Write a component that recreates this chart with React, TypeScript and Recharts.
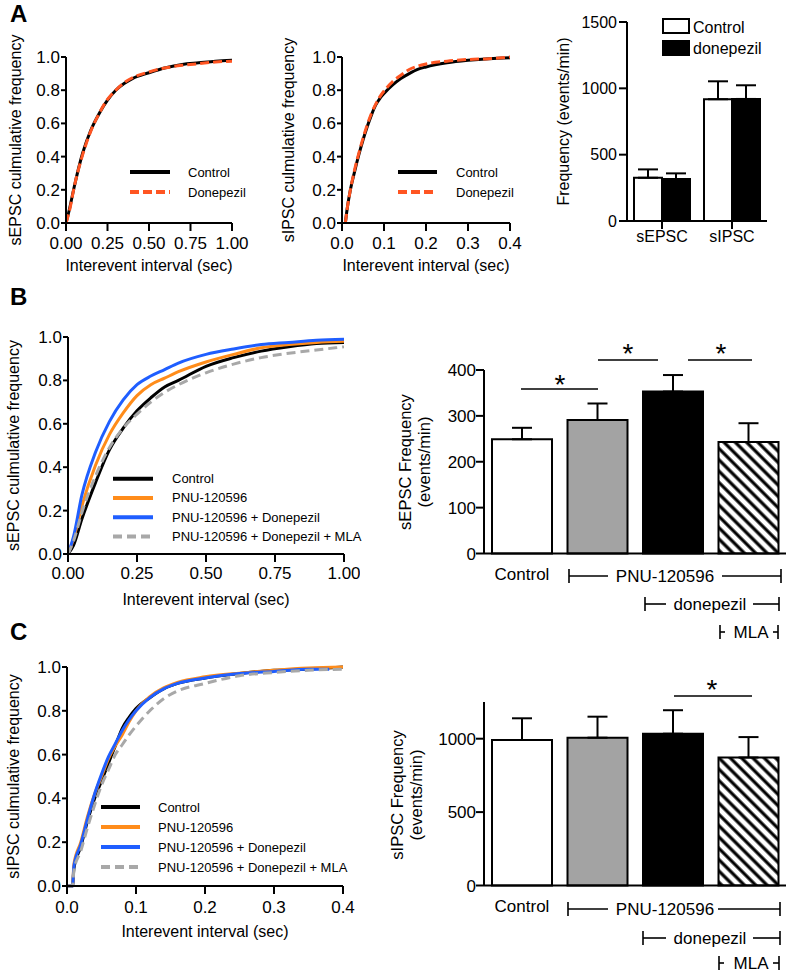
import React from 'react';
import { LineChart, Line, XAxis, YAxis, BarChart, Bar, ErrorBar, Cell, Legend } from 'recharts';

const FONT = '"Liberation Sans", Arial, Helvetica, sans-serif';

// ---------------- Panel A : cumulative distributions ----------------
const aEpscX = [0, 0.02, 0.05, 0.1, 0.15, 0.2, 0.25, 0.3, 0.35, 0.4, 0.5, 0.6, 0.7, 0.8, 0.9, 1.0];
const aEpscControl = [0, 0.08, 0.22, 0.42, 0.56, 0.66, 0.74, 0.8, 0.84, 0.87, 0.905, 0.935, 0.955, 0.965, 0.975, 0.98];
const aEpscDonepezil = [0, 0.07, 0.22, 0.41, 0.555, 0.66, 0.745, 0.8, 0.845, 0.875, 0.91, 0.935, 0.95, 0.96, 0.97, 0.975];

const aIpscX = [0.008, 0.012, 0.02, 0.03, 0.04, 0.05, 0.06, 0.07, 0.08, 0.09, 0.1, 0.12, 0.14, 0.16, 0.18, 0.2, 0.25, 0.3, 0.35, 0.4];
const aIpscControl = [0, 0.08, 0.2, 0.31, 0.41, 0.5, 0.58, 0.65, 0.71, 0.75, 0.78, 0.83, 0.87, 0.9, 0.925, 0.94, 0.965, 0.98, 0.99, 0.995];
const aIpscDonepezil = [0, 0.08, 0.2, 0.32, 0.42, 0.51, 0.59, 0.66, 0.715, 0.76, 0.795, 0.85, 0.89, 0.925, 0.945, 0.958, 0.975, 0.985, 0.99, 1.0];

// ---------------- Panel A : frequency bars ----------------
const aFreqCategories = ['sEPSC', 'sIPSC'];
const aFreqControl = [326, 918];
const aFreqControlSem = [63, 135];
const aFreqDonepezil = [316, 920];
const aFreqDonepezilSem = [43, 103];

// ---------------- Panel B : sEPSC cumulative ----------------
const bX = [0, 0.02, 0.05, 0.1, 0.15, 0.2, 0.25, 0.3, 0.35, 0.4, 0.5, 0.6, 0.7, 0.8, 0.9, 1.0];
const bControl = [0, 0.04, 0.16, 0.33, 0.48, 0.58, 0.66, 0.72, 0.77, 0.8, 0.865, 0.905, 0.935, 0.955, 0.97, 0.975];
const bPnu = [0, 0.07, 0.22, 0.41, 0.55, 0.65, 0.73, 0.78, 0.81, 0.84, 0.885, 0.92, 0.95, 0.965, 0.975, 0.98];
const bPnuDon = [0, 0.08, 0.27, 0.47, 0.61, 0.71, 0.78, 0.82, 0.85, 0.88, 0.92, 0.945, 0.965, 0.975, 0.985, 0.99];
const bPnuDonMla = [0, 0.06, 0.19, 0.36, 0.49, 0.58, 0.645, 0.7, 0.745, 0.78, 0.835, 0.875, 0.905, 0.925, 0.94, 0.955];

// ---------------- Panel C : sIPSC cumulative ----------------
const cX = [0, 0.008, 0.01, 0.02, 0.03, 0.04, 0.05, 0.06, 0.07, 0.08, 0.09, 0.1, 0.12, 0.14, 0.16, 0.2, 0.25, 0.3, 0.35, 0.4];
const cXBlue = [0, 0.008, 0.01, 0.02, 0.03, 0.04, 0.05, 0.06, 0.07, 0.08, 0.09, 0.1, 0.12, 0.14, 0.16, 0.2, 0.25, 0.3, 0.35, 0.38];
const cControl = [0, 0, 0.08, 0.18, 0.3, 0.4, 0.48, 0.56, 0.64, 0.72, 0.77, 0.81, 0.86, 0.9, 0.925, 0.95, 0.97, 0.985, 0.99, 1.0];
const cPnu = [0, 0, 0.1, 0.2, 0.32, 0.42, 0.5, 0.58, 0.64, 0.69, 0.75, 0.8, 0.865, 0.905, 0.93, 0.955, 0.972, 0.985, 0.995, 1.0];
const cPnuDon = [0, 0, 0.09, 0.19, 0.31, 0.42, 0.51, 0.59, 0.65, 0.71, 0.76, 0.8, 0.86, 0.9, 0.925, 0.95, 0.97, 0.98, 0.99, 0.99];
const cPnuDonMla = [0, 0, 0.07, 0.16, 0.27, 0.37, 0.46, 0.53, 0.6, 0.645, 0.69, 0.73, 0.8, 0.855, 0.89, 0.925, 0.96, 0.975, 0.985, 0.99];

// ---------------- Panels B / C : frequency bars ----------------
const groupCategories = ['Control', 'PNU-120596', 'PNU-120596 + donepezil', 'PNU-120596 + donepezil + MLA'];
const bEpscMean = [249, 291, 353, 243];
const bEpscSem = [25, 36, 36, 41];
const cIpscMean = [991, 1007, 1034, 872];
const cIpscSem = [148, 143, 160, 139];

const lineTicks01 = [0, 0.2, 0.4, 0.6, 0.8, 1.0];
const xTicksA = [0, 0.25, 0.5, 0.75, 1.0];
const xTicksB = [0, 0.1, 0.2, 0.3, 0.4];

const BLACK = '#000000';
const RED = '#FF5522';
const ORANGE = '#FF8C1A';
const BLUE = '#1F5EFF';
const GRAY = '#A8A8A8';

type Series = { name: string; xs: number[]; ys: number[]; color: string; dash?: string };
type Box = { left: number; top: number; width: number; height: number };
type Plot = { x0: number; x1: number; y0: number; y1: number };

const axisStyle = { stroke: '#000', strokeWidth: 2 };

function LineLegend({ items, lineLen, textX, rowGap, fontSize }: { items: Series[]; lineLen: number; textX: number; rowGap: number; fontSize: number }) {
  return (
    <svg width={320} height={items.length * rowGap} style={{ display: 'block', overflow: 'visible' }}>
      {items.map((s, i) => {
        const y = rowGap * i + rowGap / 2;
        return (
          <g key={s.name}>
            <line x1={0} x2={lineLen} y1={y} y2={y} stroke={s.color} strokeWidth={4} strokeDasharray={s.dash} />
            <text x={textX} y={y} dominantBaseline="central" fontSize={fontSize} fill="#000">{s.name}</text>
          </g>
        );
      })}
    </svg>
  );
}

function CdfPanel(props: {
  box: Box; plot: Plot; xMax: number; xTicks: number[]; xDigits: number; yTitle: string; yTitleX: number;
  xTitleBaseline: number; tickMargin: number; series: Series[];
  legend: { x: number; y: number; lineLen: number; textX: number; rowGap: number; fontSize: number };
}) {
  const { box, plot, series, legend } = props;
  const margin = { top: plot.y0 - box.top, right: box.left + box.width - plot.x1, bottom: 0, left: 0 };
  const yAxisWidth = plot.x0 - box.left;
  const xAxisHeight = box.top + box.height - plot.y1;
  return (
    <div style={{ position: 'absolute', left: box.left, top: box.top }}>
      <LineChart width={box.width} height={box.height} margin={margin}>
        <XAxis
          type="number" dataKey="x" domain={[0, props.xMax]} ticks={props.xTicks} interval={0} allowDataOverflow
          tickFormatter={(v: number) => v.toFixed(props.xDigits)} height={xAxisHeight}
          axisLine={axisStyle} tickLine={axisStyle} tickSize={8} tickMargin={props.tickMargin}
          tick={{ fill: '#000', fontSize: 17 }}
          label={{ value: 'Interevent interval (sec)', position: 'insideBottom', offset: box.top + box.height - props.xTitleBaseline, fill: '#000', fontSize: 16 }}
        />
        <YAxis
          type="number" domain={[0, 1]} ticks={lineTicks01} interval={0}
          tickFormatter={(v: number) => v.toFixed(1)} width={yAxisWidth}
          axisLine={axisStyle} tickLine={axisStyle} tickSize={5} tickMargin={1}
          tick={{ fill: '#000', fontSize: 17 }}
          label={{ value: props.yTitle, angle: -90, position: 'insideLeft', offset: props.yTitleX - box.left, style: { textAnchor: 'middle' }, fill: '#000', fontSize: 16 }}
        />
        {series.map((s) => (
          <Line
            key={s.name} name={s.name} data={s.xs.map((x, i) => ({ x, y: s.ys[i] }))} dataKey="y"
            type="monotone" stroke={s.color} strokeWidth={3} strokeDasharray={s.dash} dot={false}
            isAnimationActive={false}
          />
        ))}
        <Legend
          layout="vertical" align="center" verticalAlign="middle"
          wrapperStyle={{ left: legend.x - box.left, top: legend.y - legend.rowGap / 2 - box.top, width: 320, height: series.length * legend.rowGap }}
          content={() => <LineLegend items={series} lineLen={legend.lineLen} textX={legend.textX} rowGap={legend.rowGap} fontSize={legend.fontSize} />}
        />
      </LineChart>
    </div>
  );
}

function FreqLegend() {
  return (
    <svg width={130} height={40} style={{ display: 'block', overflow: 'visible' }}>
      <rect x={1} y={1} width={26} height={14} fill="#fff" stroke="#000" strokeWidth={2} />
      <text x={31} y={9} dominantBaseline="central" fontSize={16} fill="#000">Control</text>
      <rect x={1} y={23} width={26} height={14} fill="#000" stroke="#000" strokeWidth={2} />
      <text x={31} y={30} dominantBaseline="central" fontSize={16} fill="#000">donepezil</text>
    </svg>
  );
}

function FreqBarsA() {
  const data = aFreqCategories.map((c, i) => ({
    cat: c, control: aFreqControl[i], controlSem: [0, aFreqControlSem[i]],
    donepezil: aFreqDonepezil[i], donepezilSem: [0, aFreqDonepezilSem[i]],
  }));
  return (
    <div style={{ position: 'absolute', left: 530, top: 0 }}>
      <BarChart width={260} height={260} data={data} margin={{ top: 22, right: 23, bottom: 0, left: 0 }} barGap={0} barSize={28}>
        <XAxis dataKey="cat" height={39} axisLine={axisStyle} tickLine={axisStyle} tickSize={8} tickMargin={2} tick={{ fill: '#000', fontSize: 16 }} interval={0} />
        <YAxis
          type="number" domain={[0, 1500]} ticks={[0, 500, 1000, 1500]} interval={0} width={97}
          axisLine={axisStyle} tickLine={axisStyle} tickSize={8} tickMargin={2} tick={{ fill: '#000', fontSize: 16 }}
          label={{ value: 'Frequency (events/min)', angle: -90, position: 'insideLeft', offset: 33, style: { textAnchor: 'middle' }, fill: '#000', fontSize: 16 }}
        />
        <Bar dataKey="control" name="Control" fill="#fff" stroke="#000" strokeWidth={2} isAnimationActive={false}>
          <ErrorBar dataKey="controlSem" width={10} stroke="#000" strokeWidth={2} direction="y" />
        </Bar>
        <Bar dataKey="donepezil" name="donepezil" fill="#000" stroke="#000" strokeWidth={2} isAnimationActive={false}>
          <ErrorBar dataKey="donepezilSem" width={10} stroke="#000" strokeWidth={2} direction="y" />
        </Bar>
        <Legend layout="vertical" align="center" verticalAlign="middle" wrapperStyle={{ left: 132, top: 18, width: 130, height: 40 }} content={() => <FreqLegend />} />
      </BarChart>
    </div>
  );
}

function GroupBars(props: { id: string; box: Box; top: number; mean: number[]; sem: number[]; yMax: number; yTicks: number[] }) {
  const { box } = props;
  const data = groupCategories.map((c, i) => ({ cat: c, mean: props.mean[i], sem: [0, props.sem[i]] }));
  const fills = ['#ffffff', '#a3a3a3', '#000000', `url(#${props.id})`];
  return (
    <div style={{ position: 'absolute', left: box.left, top: box.top }}>
      <BarChart width={box.width} height={box.height} data={data} margin={{ top: props.top, right: 4, bottom: 0, left: 0 }} barSize={60}>
        <defs>
          <pattern id={props.id} patternUnits="userSpaceOnUse" width={8} height={8} patternTransform="rotate(-45)">
            <rect x={0} y={0} width={8} height={8} fill="#fff" />
            <line x1={2} y1={0} x2={2} y2={8} stroke="#000" strokeWidth={3.2} />
          </pattern>
        </defs>
        <XAxis dataKey="cat" height={box.height - props.top - 183.5} axisLine={axisStyle} tickLine={false} tick={false} />
        <YAxis
          type="number" domain={[0, props.yMax]} ticks={props.yTicks} interval={0} width={114}
          axisLine={axisStyle} tickLine={axisStyle} tickSize={8} tickMargin={0} tick={{ fill: '#000', fontSize: 17 }}
        />
        <Bar dataKey="mean" stroke="#000" strokeWidth={2} isAnimationActive={false}>
          {data.map((d, i) => <Cell key={d.cat} fill={fills[i]} />)}
          <ErrorBar dataKey="sem" width={10} stroke="#000" strokeWidth={2} direction="y" />
        </Bar>
      </BarChart>
    </div>
  );
}

// ---------------- annotations (labels, brackets, significance) ----------------
const panelLetters = [
  { t: 'A', x: 10, y: 22 },
  { t: 'B', x: 10, y: 305 },
  { t: 'C', x: 10, y: 640 },
];
type Bracket = { y: number; x1: number; x2: number; label: string; cx: number; gapL: number; gapR: number };
const brackets: Bracket[] = [
  { y: 576, x1: 569, x2: 781, label: 'PNU-120596', cx: 665, gapL: 608, gapR: 722 },
  { y: 604, x1: 645, x2: 779, label: 'donepezil', cx: 710, gapL: 666, gapR: 753 },
  { y: 632, x1: 720, x2: 778, label: 'MLA', cx: 751, gapL: 725, gapR: 773 },
  { y: 909, x1: 568, x2: 780, label: 'PNU-120596', cx: 665, gapL: 608, gapR: 718 },
  { y: 938, x1: 643, x2: 780, label: 'donepezil', cx: 710, gapL: 666, gapR: 753 },
  { y: 963, x1: 719, x2: 779, label: 'MLA', cx: 751, gapL: 724, gapR: 773 },
];
const controlLabels = [{ x: 522, y: 574 }, { x: 522, y: 906 }];
const sigLines = [
  { y: 389, x1: 521, x2: 598, sx: 560, top: 374 },
  { y: 360, x1: 598, x2: 658, sx: 628, top: 343 },
  { y: 360, x1: 688, x2: 752, sx: 721, top: 343 },
  { y: 696, x1: 674, x2: 752, sx: 712, top: 679 },
];
const barTitles = [
  { l1: 'sEPSC Frequency', l2: '(events/min)', x1: 405, x2: 424, cy: 462 },
  { l1: 'sIPSC Frequency', l2: '(events/min)', x1: 397, x2: 416, cy: 795 },
];

function Overlay() {
  return (
    <svg width={790} height={974} style={{ position: 'absolute', left: 0, top: 0, pointerEvents: 'none' }}>
      {panelLetters.map((p) => (
        <text key={p.t} x={p.x} y={p.y} fontSize={24} fontWeight="bold" fill="#000">{p.t}</text>
      ))}
      {controlLabels.map((c, i) => (
        <text key={i} x={c.x} y={c.y + 6} textAnchor="middle" fontSize={17} fill="#000">Control</text>
      ))}
      {brackets.map((b, i) => (
        <g key={i} stroke="#000" strokeWidth={1.6}>
          <line x1={b.x1} x2={b.x1} y1={b.y - 7} y2={b.y + 7} />
          <line x1={b.x2} x2={b.x2} y1={b.y - 7} y2={b.y + 7} />
          <line x1={b.x1} x2={b.gapL} y1={b.y} y2={b.y} />
          <line x1={b.gapR} x2={b.x2} y1={b.y} y2={b.y} />
          <text x={b.cx} y={b.y + 6} textAnchor="middle" fontSize={17} fill="#000" stroke="none">{b.label}</text>
        </g>
      ))}
      {sigLines.map((s, i) => (
        <g key={i}>
          <line x1={s.x1} x2={s.x2} y1={s.y} y2={s.y} stroke="#000" strokeWidth={1.6} />
          <text x={s.sx} y={s.top + 20} textAnchor="middle" fontSize={28} fill="#000">*</text>
        </g>
      ))}
      {barTitles.map((t, i) => (
        <g key={i}>
          <text x={t.x1} y={t.cy} transform={`rotate(-90 ${t.x1} ${t.cy})`} textAnchor="middle" dominantBaseline="central" fontSize={16.5} fill="#000">{t.l1}</text>
          <text x={t.x2} y={t.cy} transform={`rotate(-90 ${t.x2} ${t.cy})`} textAnchor="middle" dominantBaseline="central" fontSize={16.5} fill="#000">{t.l2}</text>
        </g>
      ))}
    </svg>
  );
}

export default function App() {
  const seriesA1: Series[] = [
    { name: 'Control', xs: aEpscX, ys: aEpscControl, color: BLACK },
    { name: 'Donepezil', xs: aEpscX, ys: aEpscDonepezil, color: RED, dash: '9 4' },
  ];
  const seriesA2: Series[] = [
    { name: 'Control', xs: aIpscX, ys: aIpscControl, color: BLACK },
    { name: 'Donepezil', xs: aIpscX, ys: aIpscDonepezil, color: RED, dash: '9 4' },
  ];
  const seriesB: Series[] = [
    { name: 'Control', xs: bX, ys: bControl, color: BLACK },
    { name: 'PNU-120596', xs: bX, ys: bPnu, color: ORANGE },
    { name: 'PNU-120596 + Donepezil', xs: bX, ys: bPnuDon, color: BLUE },
    { name: 'PNU-120596 + Donepezil + MLA', xs: bX, ys: bPnuDonMla, color: GRAY, dash: '9 5' },
  ];
  const seriesC: Series[] = [
    { name: 'Control', xs: cX, ys: cControl, color: BLACK },
    { name: 'PNU-120596', xs: cX, ys: cPnu, color: ORANGE },
    { name: 'PNU-120596 + Donepezil', xs: cXBlue, ys: cPnuDon, color: BLUE },
    { name: 'PNU-120596 + Donepezil + MLA', xs: cX, ys: cPnuDonMla, color: GRAY, dash: '9 5' },
  ];
  return (
    <div style={{ position: 'absolute', left: 0, top: 0, width: 790, height: 974, background: '#fff', fontFamily: FONT, overflow: 'hidden' }}>
      <CdfPanel
        box={{ left: 0, top: 0, width: 255, height: 280 }} plot={{ x0: 66, x1: 232, y0: 57, y1: 223 }}
        xMax={1} xTicks={xTicksA} xDigits={2} yTitle="sEPSC culmulative frequency" yTitleX={15}
        xTitleBaseline={271} tickMargin={6} series={seriesA1}
        legend={{ x: 130, y: 172, lineLen: 40, textX: 58, rowGap: 20, fontSize: 13 }}
      />
      <CdfPanel
        box={{ left: 270, top: 0, width: 260, height: 280 }} plot={{ x0: 342, x1: 510, y0: 57, y1: 223 }}
        xMax={0.4} xTicks={xTicksB} xDigits={1} yTitle="sIPSC culmulative frequency" yTitleX={288}
        xTitleBaseline={271} tickMargin={6} series={seriesA2}
        legend={{ x: 398, y: 172, lineLen: 39, textX: 58, rowGap: 20, fontSize: 13 }}
      />
      <FreqBarsA />
      <CdfPanel
        box={{ left: 0, top: 290, width: 360, height: 320 }} plot={{ x0: 68, x1: 344, y0: 337, y1: 554 }}
        xMax={1} xTicks={xTicksA} xDigits={2} yTitle="sEPSC culmulative frequency" yTitleX={13}
        xTitleBaseline={605} tickMargin={5} series={seriesB}
        legend={{ x: 113, y: 479, lineLen: 40, textX: 59, rowGap: 19.3, fontSize: 13 }}
      />
      <GroupBars id="hatchB" box={{ left: 370, top: 340, width: 420, height: 300 }} top={30} mean={bEpscMean} sem={bEpscSem} yMax={400} yTicks={[0, 100, 200, 300, 400]} />
      <CdfPanel
        box={{ left: 0, top: 620, width: 360, height: 324 }} plot={{ x0: 67, x1: 343, y0: 667, y1: 886 }}
        xMax={0.4} xTicks={xTicksB} xDigits={1} yTitle="sIPSC culmulative frequency" yTitleX={13}
        xTitleBaseline={937} tickMargin={7} series={seriesC}
        legend={{ x: 101, y: 807, lineLen: 39, textX: 57, rowGap: 20, fontSize: 13 }}
      />
      <GroupBars id="hatchC" box={{ left: 370, top: 672, width: 420, height: 298 }} top={30} mean={cIpscMean} sem={cIpscSem} yMax={1250} yTicks={[0, 500, 1000]} />
      <Overlay />
    </div>
  );
}
